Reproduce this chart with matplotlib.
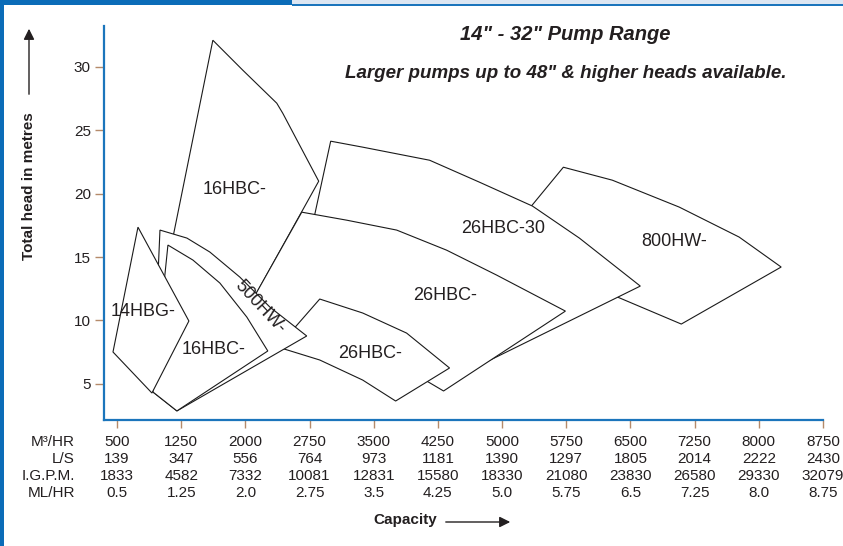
import numpy as np
import matplotlib.pyplot as plt
from matplotlib.patches import Polygon, Rectangle

plt.rcParams['font.family'] = ['Liberation Sans', 'DejaVu Sans']

# pump envelopes, outline points: capacity (m3/hr) vs head (m)
hw800_q = [5716, 6288, 7070, 7770, 8261, 7094, 6347, 5670, 5226]
hw800_h = [22.07, 21.05, 18.93, 16.57, 14.21, 9.72, 11.85, 14.60, 18.06]

hbc26_30_q = [2997, 3371, 4153, 4736, 5355, 5903, 6615, 4386, 2986, 2776]
hbc26_30_h = [24.12, 23.65, 22.62, 20.89, 19.01, 16.49, 12.71, 5.31, 11.61, 17.27]

hbc16_big_q = [1620, 1970, 2367, 2437, 2857, 1994, 1119]
hbc16_big_h = [32.07, 29.71, 27.11, 26.32, 20.97, 10.51, 15.39]

hbc26_big_q = [2659, 3184, 3768, 4351, 4935, 5740, 4316, 3803, 3102, 2461, 2029]
hbc26_big_h = [18.53, 17.90, 17.12, 15.54, 13.58, 10.74, 4.45, 6.49, 8.86, 8.86, 10.98]

hbc26_small_q = [2869, 3371, 3884, 4386, 3756, 3371, 2869, 2379]
hbc26_small_h = [11.69, 10.59, 9.01, 6.26, 3.66, 5.31, 6.89, 7.91]

hw500_q = [1002, 1317, 1585, 1935, 2286, 2717, 1200, 920]
hw500_h = [17.12, 16.49, 15.39, 13.42, 11.06, 8.78, 2.88, 4.37]

hbc16_small_q = [1095, 1387, 1702, 2017, 2262, 1200, 920]
hbc16_small_h = [15.94, 14.76, 12.95, 10.27, 7.60, 2.88, 4.37]

hbg14_q = [745, 1340, 908, 453]
hbg14_h = [17.35, 9.96, 4.29, 7.52]

# label text, position and rotation
labels = ['800HW-', '26HBC-30', '16HBC-', '26HBC-', '26HBC-', '500HW-', '16HBC-', '14HBG-']
label_q = [7012, 5016, 1877, 4339, 3453, 2169, 1632, 803]
label_h = [16.25, 17.27, 20.34, 12.00, 7.44, 11.06, 7.68, 10.74]
label_rot = [0, 0, 0, 0, 0, -47, 0, 0]

# capacity scale rows
m3hr = [500, 1250, 2000, 2750, 3500, 4250, 5000, 5750, 6500, 7250, 8000, 8750]
ls = [139, 347, 556, 764, 973, 1181, 1390, 1297, 1805, 2014, 2222, 2430]
igpm = [1833, 4582, 7332, 10081, 12831, 15580, 18330, 21080, 23830, 26580, 29330, 32079]
mlhr = ['0.5', '1.25', '2.0', '2.75', '3.5', '4.25', '5.0', '5.75', '6.5', '7.25', '8.0', '8.75']
row_names = ['M³/HR', 'L/S', 'I.G.P.M.', 'ML/HR']

head_ticks = [5, 10, 15, 20, 25, 30]

txt = '#231f20'
blue = '#1b75bc'
tick_c = '#b58a6a'

W, H = 843, 546
fig = plt.figure(figsize=(W / 100, H / 100), dpi=100)
ax = fig.add_axes([104 / W, 1 - 420 / H, (823 - 104) / W, (420 - 26) / H])

shapes = [(hw800_q, hw800_h), (hbc26_30_q, hbc26_30_h), (hbc16_big_q, hbc16_big_h),
          (hbc26_big_q, hbc26_big_h), (hbc26_small_q, hbc26_small_h),
          (hw500_q, hw500_h), (hbc16_small_q, hbc16_small_h), (hbg14_q, hbg14_h)]
for i, (q, h) in enumerate(shapes):
    ax.add_patch(Polygon(np.column_stack([q, h]), closed=True, facecolor='white',
                         edgecolor='#1a1a1a', lw=0.8, zorder=2 + i))

for lab, q, h, r in zip(labels, label_q, label_h, label_rot):
    ax.text(q, h, lab, ha='center', va='center', rotation=r, fontsize=13,
            color=txt, zorder=20, rotation_mode='anchor')

ax.set_xlim(348, 8750)
ax.set_ylim(2.165, 33.19)
for s in ['top', 'right']:
    ax.spines[s].set_visible(False)
for s in ['left', 'bottom']:
    ax.spines[s].set_color(blue)
    ax.spines[s].set_linewidth(1.6)

ax.set_yticks(head_ticks)
ax.set_yticklabels([str(v) for v in head_ticks])
ax.tick_params(axis='y', direction='out', length=6.5, width=1, color=tick_c,
               labelsize=11, labelcolor=txt, pad=3)
ax.set_xticks(m3hr)
ax.set_xticklabels([])
ax.tick_params(axis='x', direction='out', length=5.5, width=1, color=tick_c)

# capacity table under the axis
rows = [[str(v) for v in m3hr], [str(v) for v in ls], [str(v) for v in igpm], mlhr]
row_base = [446, 463, 480, 497]
for name, vals, yb in zip(row_names, rows, row_base):
    ya = (420 - yb) / 394
    for q, v in zip(m3hr, vals):
        ax.text(q, ya, v, transform=ax.get_xaxis_transform(), ha='center',
                va='baseline', fontsize=11, color=txt, clip_on=False)
    fig.text(75 / W, 1 - yb / H, name, ha='right', va='baseline', fontsize=11, color=txt)

# titles
fig.text(565 / W, 1 - 35 / H, '14" - 32" Pump Range', ha='center', va='center',
         fontsize=14.5, fontweight='bold', fontstyle='italic', color=txt)
fig.text(566 / W, 1 - 73 / H, 'Larger pumps up to 48" & higher heads available.',
         ha='center', va='center', fontsize=13.5, fontweight='bold',
         fontstyle='italic', color=txt)

# axis titles with arrows
fig.text(405 / W, 1 - 520 / H, 'Capacity', ha='center', va='center', fontsize=11,
         fontweight='bold', color=txt)
ax.annotate('', xy=(513 / W, 1 - 522 / H), xytext=(443 / W, 1 - 522 / H),
            xycoords='figure fraction', textcoords='figure fraction',
            arrowprops=dict(arrowstyle='-|>', color=txt, lw=1, mutation_scale=16))
fig.text(29 / W, 1 - 186 / H, 'Total head in metres', ha='center', va='center',
         rotation=90, fontsize=11, fontweight='bold', color=txt)
ax.annotate('', xy=(29 / W, 1 - 26 / H), xytext=(29 / W, 1 - 97 / H),
            xycoords='figure fraction', textcoords='figure fraction',
            arrowprops=dict(arrowstyle='-|>', color=txt, lw=1, mutation_scale=16))

# page frame
fig.add_artist(Rectangle((0, 0), 4 / W, 1, transform=fig.transFigure, color='#0b6cb8', lw=0))
fig.add_artist(Rectangle((0, 1 - 5 / H), 292 / W, 5 / H, transform=fig.transFigure,
                         color='#0b6cb8', lw=0))
fig.add_artist(Rectangle((292 / W, 1 - 4 / H), 1 - 292 / W, 4 / H, transform=fig.transFigure,
                         color='#dce6f2', lw=0))
fig.add_artist(Rectangle((292 / W, 1 - 6 / H), 1 - 292 / W, 2 / H, transform=fig.transFigure,
                         color='#1b75bc', lw=0))

fig.savefig('out.png', dpi=100)
